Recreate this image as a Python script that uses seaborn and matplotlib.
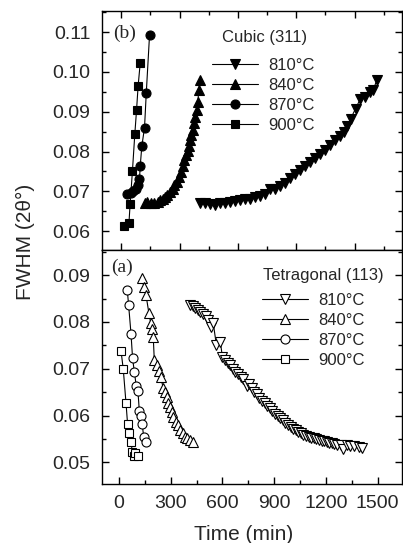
import numpy as np
import pandas as pd
import matplotlib
matplotlib.use("Agg")
import matplotlib.pyplot as plt
import seaborn as sns
from matplotlib.ticker import MultipleLocator

# ---------------- data ----------------
labels = ["810°C", "840°C", "870°C", "900°C"]

# (b) Cubic (311)
cub_810_t = [406, 431, 457, 483, 509, 534, 560, 586, 611, 637, 663, 688, 714, 740, 765, 791,
             817, 842, 868, 894, 920, 945, 971, 997, 1022, 1048, 1074, 1099, 1125, 1146,
             1163, 1180, 1205, 1228, 1253, 1279, 1296, 1313]
cub_810_v = [0.0670, 0.0671, 0.0668, 0.0665, 0.0671, 0.0670, 0.0674, 0.0677, 0.0678, 0.0680,
             0.0682, 0.0685, 0.0688, 0.0693, 0.0707, 0.0705, 0.0713, 0.0721, 0.0733, 0.0744,
             0.0754, 0.0763, 0.0774, 0.0785, 0.0795, 0.0805, 0.0816, 0.0829, 0.0839, 0.0850,
             0.0864, 0.0883, 0.0908, 0.0931, 0.0938, 0.0950, 0.0954, 0.0979]
cub_840_t = [120, 135, 152, 170, 187, 200, 214, 226, 238, 252, 264, 274, 286, 296, 307, 317,
             325, 334, 341, 348, 354, 361, 368, 375, 382, 389, 394, 399, 406]
cub_840_v = [0.0671, 0.0674, 0.0670, 0.0671, 0.0674, 0.0678, 0.0682, 0.0686, 0.0692, 0.0699,
             0.0707, 0.0716, 0.0724, 0.0737, 0.0749, 0.0763, 0.0778, 0.0791, 0.0802, 0.0814,
             0.0829, 0.0841, 0.0854, 0.0871, 0.0887, 0.0904, 0.0925, 0.0954, 0.0981]
cub_870_t = [29, 50, 63, 76, 84, 94, 98, 106, 120, 129, 146]
cub_870_v = [0.0693, 0.0696, 0.0701, 0.0706, 0.0715, 0.0730, 0.0764, 0.0813, 0.0860, 0.0947, 0.1094]
cub_900_t = [12, 40, 46, 58, 70, 79, 87, 98]
cub_900_v = [0.0613, 0.0621, 0.0668, 0.0752, 0.0843, 0.0904, 0.0964, 0.1023]

# (a) Tetragonal (113)
tet_810_t = [412, 427, 442, 457, 472, 487, 502, 517, 532, 547, 565, 588, 600, 615, 630, 645,
             660, 675, 690, 705, 720, 740, 755, 770, 785, 800, 815, 830, 845, 860, 875, 890,
             905, 920, 935, 950, 965, 980, 995, 1010, 1025, 1040, 1055, 1070, 1085, 1100,
             1115, 1130, 1145, 1160, 1175, 1190, 1205, 1220, 1235, 1250, 1265, 1285, 1302,
             1320, 1340, 1365, 1390, 1412]
tet_810_v = [0.0836, 0.0833, 0.0830, 0.0826, 0.0822, 0.0817, 0.0812, 0.0805, 0.0790, 0.0797,
             0.0751, 0.0758, 0.0725, 0.0719, 0.0713, 0.0707, 0.0699, 0.0694, 0.0688, 0.0682,
             0.0677, 0.0662, 0.0667, 0.0658, 0.0651, 0.0645, 0.0638, 0.0632, 0.0626, 0.0620,
             0.0615, 0.0610, 0.0604, 0.0599, 0.0594, 0.0590, 0.0585, 0.0580, 0.0576, 0.0572,
             0.0568, 0.0565, 0.0562, 0.0559, 0.0556, 0.0554, 0.0552, 0.0551, 0.0549, 0.0547,
             0.0546, 0.0545, 0.0543, 0.0542, 0.0541, 0.0540, 0.0538, 0.0536, 0.0529, 0.0536,
             0.0534, 0.0534, 0.0533, 0.0530]
tet_840_t = [132, 145, 157, 174, 184, 193, 199, 205, 219, 234, 242, 257, 267, 277, 286, 296,
             306, 315, 331, 344, 354, 370, 383, 396, 412, 428]
tet_840_v = [0.0893, 0.0875, 0.0857, 0.0818, 0.0798, 0.0784, 0.0767, 0.0718, 0.0708, 0.0695,
             0.0683, 0.0658, 0.0651, 0.0640, 0.0627, 0.0619, 0.0608, 0.0597, 0.0587, 0.0580,
             0.0569, 0.0562, 0.0555, 0.0551, 0.0548, 0.0544]
tet_870_t = [48, 56, 70, 79, 89, 100, 110, 118, 128, 135, 143, 157]
tet_870_v = [0.0869, 0.0836, 0.0774, 0.0722, 0.0694, 0.0664, 0.0653, 0.0610, 0.0599, 0.0582,
             0.0555, 0.0544]
tet_900_t = [12, 25, 41, 50, 60, 70, 77, 89, 93, 108]
tet_900_v = [0.0738, 0.0699, 0.0626, 0.0582, 0.0562, 0.0544, 0.0523, 0.0513, 0.0519, 0.0513]

x_ticks_major = 300
x_ticks_minor = 150

# ---------------- style ----------------
sns.set_theme(style="ticks")
plt.rcParams["font.family"] = ["Liberation Sans", "DejaVu Sans"]
plt.rcParams["axes.linewidth"] = 1.0

fig = plt.figure(figsize=(4.03, 5.43), dpi=100)
L, W = 0.2524, 0.7444
ax_b = fig.add_axes([L, 0.5390, W, 0.4407])
ax_a = fig.add_axes([L, 0.1081, W, 0.4309])

markers = ["v", "^", "o", "s"]
sizes = [7.5, 7.5, 6.5, 6.3]


def draw(ax, t, v, marker, ms, filled, label):
    df = pd.DataFrame({"t": t, "v": v})
    sns.lineplot(data=df, x="t", y="v", ax=ax, color="black", lw=0.8,
                 marker=marker, markersize=ms,
                 markerfacecolor="black" if filled else "white",
                 markeredgecolor="black", markeredgewidth=0.8,
                 sort=False, estimator=None, label=label)


cub = [(cub_810_t, cub_810_v), (cub_840_t, cub_840_v), (cub_870_t, cub_870_v), (cub_900_t, cub_900_v)]
tet = [(tet_810_t, tet_810_v), (tet_840_t, tet_840_v), (tet_870_t, tet_870_v), (tet_900_t, tet_900_v)]

for (t, v), m, s, lab in zip(cub, markers, sizes, labels):
    draw(ax_b, t, v, m, s, True, lab)
for (t, v), m, s, lab in zip(tet, markers, sizes, labels):
    draw(ax_a, t, v, m, s, False, lab)

# axes ranges
ax_b.set_xlim(-100, 1442)
ax_b.set_ylim(0.0552, 0.1153)
ax_a.set_xlim(-100, 1640)
ax_a.set_ylim(0.0453, 0.0953)

for ax in (ax_a, ax_b):
    ax.xaxis.set_major_locator(MultipleLocator(x_ticks_major))
    ax.xaxis.set_minor_locator(MultipleLocator(x_ticks_minor))
    ax.yaxis.set_major_locator(MultipleLocator(0.01))
    ax.yaxis.set_minor_locator(MultipleLocator(0.005))
    ax.yaxis.set_major_formatter(matplotlib.ticker.FormatStrFormatter("%.2f"))
    ax.tick_params(which="both", direction="in", color="black", width=1.0,
                   labelsize=14, pad=8, left=True, right=True, bottom=True)
    ax.tick_params(which="major", length=5)
    ax.tick_params(which="minor", length=3)
    ax.set_xlabel("")
    ax.set_ylabel("")
    for sp in ax.spines.values():
        sp.set_visible(True)
        sp.set_color("black")
        sp.set_linewidth(1.0)

ax_b.tick_params(which="both", top=True, labelbottom=False)
ax_a.tick_params(which="both", top=False)

# legends
for ax, xa, ya, title, tx, ty in [
    (ax_b, 0.3667, 0.805, "Cubic (311)", 0.5427, 0.8893),
    (ax_a, 0.5333, 0.818, "Tetragonal (113)", 0.7377, 0.8923),
]:
    h, l = ax.get_legend_handles_labels()
    ax.legend(h, l, loc="upper left", bbox_to_anchor=(xa, ya), frameon=False,
              fontsize=12, handlelength=2.8, handletextpad=0.6, labelspacing=0.3,
              borderpad=0, borderaxespad=0, numpoints=1)
    ax.text(tx, ty, title, transform=ax.transAxes, ha="center", va="center", fontsize=12)

ax_b.text(0.037, 0.906, "(b)", transform=ax_b.transAxes, ha="left", va="center",
          fontsize=14, family=["Liberation Serif", "DejaVu Serif"])
ax_a.text(0.033, 0.9265, "(a)", transform=ax_a.transAxes, ha="left", va="center",
          fontsize=14, family=["Liberation Serif", "DejaVu Serif"])

fig.text(25 / 403, 1 - 242 / 543, "FWHM (2θ°)", rotation=90, ha="center", va="center",
         fontsize=15)
fig.text(244 / 403, 1 - 534 / 543, "Time (min)", ha="center", va="center", fontsize=15)

fig.savefig("out.png", dpi=100)
